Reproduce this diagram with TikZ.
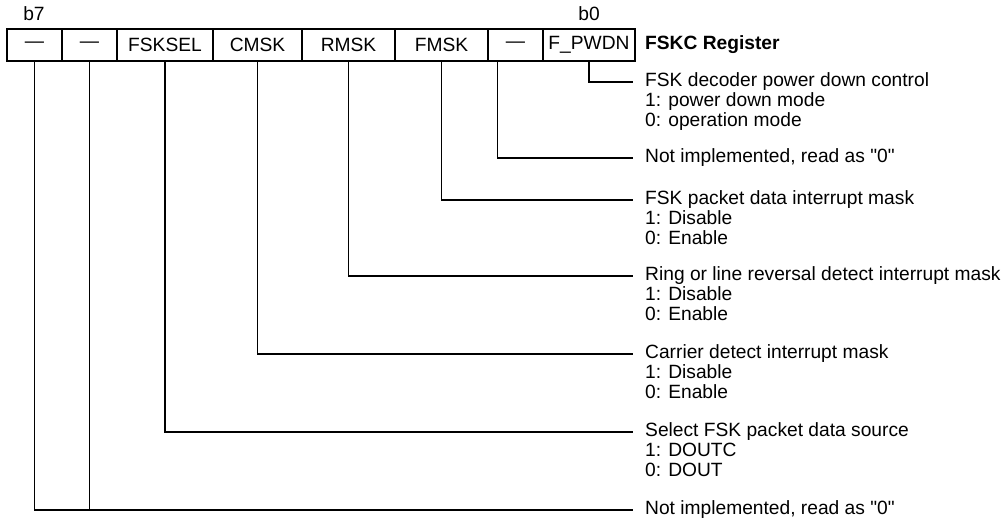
\documentclass[tikz,border=0pt]{standalone}
\usepackage{fontspec}
\setmainfont{Liberation Sans}[Ligatures=TeXOff]
\begin{document}
\begin{tikzpicture}[x=1pt,y=-1pt,
  every node/.style={font=\fontsize{19.2}{20}\selectfont, text=black},
  cell/.style={draw, line width=1.1pt, minimum height=32pt, inner sep=0pt, anchor=center},
  desc/.style={inner sep=0pt},
  conn/.style={line width=1.1pt}]
\useasboundingbox (0,0) rectangle (1008,523);
% register cells
\node[cell, minimum width=55pt] (c7) at (34.5,45) {—};
\node[cell, minimum width=55pt] (c6) at (89.5,45) {—};
\node[cell, minimum width=96pt] (c5) at (165,45) {FSKSEL};
\node[cell, minimum width=89pt] (c4) at (257.5,45) {CMSK};
\node[cell, minimum width=93pt] (c3) at (348.5,45) {RMSK};
\node[cell, minimum width=93pt] (c2) at (441.5,45) {FMSK};
\node[cell, minimum width=55pt] (c1) at (515.5,45) {—};
\node[cell, minimum width=92pt] (c0) at (589,45) {F\_PWDN};
\node[desc, anchor=west] (reg) at (645,45) {\bfseries FSKC Register};
\node[desc] (b7) at (34,14) {b7};
\node[desc] (b0) at (589,14) {b0};
% descriptions
\node[desc, anchor=west] (t0) at (645,82) {FSK decoder power down control};
\node[desc, anchor=base west] (t0a) at ([yshift=-20]t0.base west) {1: power down mode};
\node[desc, anchor=base west] (t0b) at ([yshift=-20]t0a.base west) {0: operation mode};
\node[desc, anchor=west] (t1) at (645,158) {Not implemented, read as "0"};
\node[desc, anchor=west] (t2) at (645,200) {FSK packet data interrupt mask};
\node[desc, anchor=base west] (t2a) at ([yshift=-20]t2.base west) {1: Disable};
\node[desc, anchor=base west] (t2b) at ([yshift=-20]t2a.base west) {0: Enable};
\node[desc, anchor=west] (t3) at (645,276) {Ring or line reversal detect interrupt mask};
\node[desc, anchor=base west] (t3a) at ([yshift=-20]t3.base west) {1: Disable};
\node[desc, anchor=base west] (t3b) at ([yshift=-20]t3a.base west) {0: Enable};
\node[desc, anchor=west] (t4) at (645,354) {Carrier detect interrupt mask};
\node[desc, anchor=base west] (t4a) at ([yshift=-20]t4.base west) {1: Disable};
\node[desc, anchor=base west] (t4b) at ([yshift=-20]t4a.base west) {0: Enable};
\node[desc, anchor=west] (t5) at (645,432) {Select FSK packet data source};
\node[desc, anchor=base west] (t5a) at ([yshift=-20]t5.base west) {1: DOUTC};
\node[desc, anchor=base west] (t5b) at ([yshift=-20]t5a.base west) {0: DOUT};
\node[desc, anchor=west] (t7) at (645,510) {Not implemented, read as "0"};
% connectors
\draw[conn] (c0.south) |- ([xshift=-12pt]t0.west);
\draw[conn] ([xshift=-18pt]c1.south) |- ([xshift=-12pt]t1.west);
\draw[conn] (c2.south) |- ([xshift=-12pt]t2.west);
\draw[conn] (c3.south) |- ([xshift=-12pt]t3.west);
\draw[conn] (c4.south) |- ([xshift=-12pt]t4.west);
\draw[conn] (c5.south) |- ([xshift=-12pt]t5.west);
\draw[conn] (c7.south) |- ([xshift=-12pt]t7.west);
\draw[conn] (c6.south) -- (c6.south |- t7.west);
\end{tikzpicture}
\end{document}
